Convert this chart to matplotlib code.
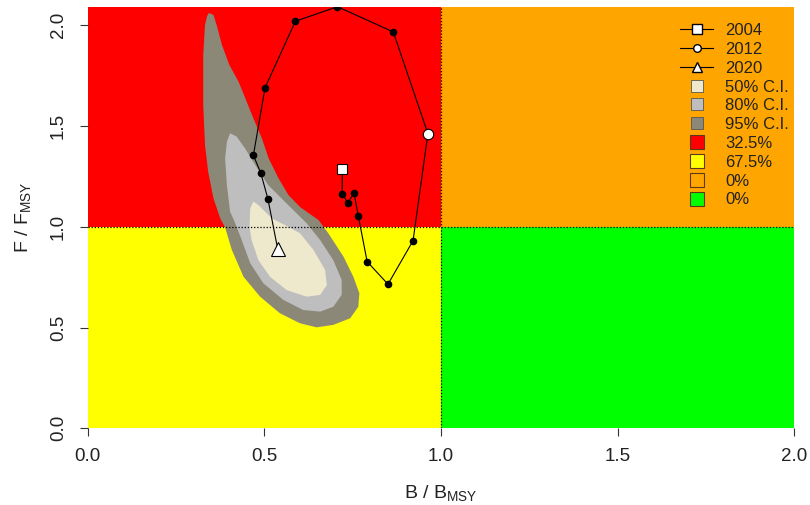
import matplotlib
matplotlib.use("Agg")
import matplotlib.pyplot as plt
from matplotlib.lines import Line2D
import numpy as np

plt.rcParams['font.family'] = ['Liberation Sans', 'DejaVu Sans']
plt.rcParams['mathtext.default'] = 'regular'

# ---- data ----
years = list(range(2004, 2021))
b_traj = [0.721, 0.720, 0.736, 0.754, 0.766, 0.791, 0.850, 0.921, 0.963,
          0.865, 0.707, 0.588, 0.502, 0.469, 0.490, 0.510, 0.538]
f_traj = [1.287, 1.164, 1.120, 1.166, 1.054, 0.827, 0.715, 0.931, 1.462,
          1.967, 2.092, 2.020, 1.690, 1.355, 1.266, 1.139, 0.888]

ci95_b = [0.343, 0.356, 0.365, 0.380, 0.401, 0.427, 0.446, 0.469, 0.493, 0.512,
          0.540, 0.568, 0.601, 0.653, 0.681, 0.724, 0.752, 0.769, 0.766, 0.743,
          0.695, 0.648, 0.601, 0.544, 0.488, 0.441, 0.408, 0.389, 0.375, 0.356,
          0.341, 0.332, 0.327, 0.327, 0.332, 0.338]
ci95_f = [2.061, 2.051, 2.001, 1.902, 1.803, 1.720, 1.638, 1.538, 1.439, 1.340,
          1.241, 1.158, 1.098, 1.034, 0.968, 0.852, 0.752, 0.670, 0.603, 0.546,
          0.513, 0.501, 0.521, 0.571, 0.653, 0.752, 0.885, 0.996, 1.042, 1.141,
          1.273, 1.406, 1.604, 1.853, 2.001, 2.046]

ci80_b = [0.403, 0.422, 0.445, 0.474, 0.511, 0.553, 0.620, 0.658, 0.695, 0.719,
          0.719, 0.695, 0.658, 0.610, 0.554, 0.497, 0.460, 0.436, 0.416, 0.403,
          0.394, 0.389, 0.394]
ci80_f = [1.464, 1.447, 1.390, 1.307, 1.207, 1.133, 1.017, 0.934, 0.835, 0.736,
          0.662, 0.603, 0.579, 0.587, 0.637, 0.720, 0.819, 0.934, 1.024, 1.075,
          1.207, 1.340, 1.422]

ci50_b = [0.469, 0.483, 0.521, 0.563, 0.601, 0.639, 0.672, 0.677, 0.658, 0.620,
          0.563, 0.516, 0.483, 0.464, 0.458, 0.460]
ci50_f = [1.125, 1.108, 1.042, 1.004, 0.968, 0.885, 0.786, 0.711, 0.662, 0.653,
          0.686, 0.752, 0.835, 0.934, 0.999, 1.092]

quad_labels = ['32.5%', '67.5%', '0%', '0%']
ci_labels = ['50% C.I.', '80% C.I.', '95% C.I.']
b_ref, f_ref = 1.0, 1.0
x_max = 2.0
x_ticks = [0.0, 0.5, 1.0, 1.5, 2.0]
y_ticks = [0.0, 0.5, 1.0, 1.5, 2.0]

# ---- style ----
col_red, col_yel, col_org, col_grn = '#FF0000', '#FFFF00', '#FFA500', '#00FF00'
col50, col80, col95 = '#EEE8CD', '#BEBEBE', '#8B8878'

fig = plt.figure(figsize=(8.1, 5.05), dpi=100)
ax = fig.add_axes([0.1083, 0.1519, 0.9805 - 0.1083, 0.9867 - 0.1519])
y_max = max(f_traj)
ax.set_xlim(0, x_max)
ax.set_ylim(0, y_max)

# quadrants
ax.fill_between([0, b_ref], f_ref, y_max, color=col_red, lw=0, zorder=1)
ax.fill_between([0, b_ref], 0, f_ref, color=col_yel, lw=0, zorder=1)
ax.fill_between([b_ref, x_max], f_ref, y_max, color=col_org, lw=0, zorder=1)
ax.fill_between([b_ref, x_max], 0, f_ref, color=col_grn, lw=0, zorder=1)

# CI regions
ax.fill(ci95_b, ci95_f, color=col95, lw=0, zorder=2)
ax.fill(ci80_b, ci80_f, color=col80, lw=0, zorder=3)
ax.fill(ci50_b, ci50_f, color=col50, lw=0, zorder=4)

# reference lines
ax.axhline(f_ref, color='black', lw=0.9, ls=(0, (1, 1.5)), zorder=5)
ax.axvline(b_ref, color='black', lw=0.9, ls=(0, (1, 1.5)), zorder=5)

# trajectory
ax.plot(b_traj, f_traj, color='black', lw=0.8, zorder=6)
ax.plot(b_traj[1:-1], f_traj[1:-1], 'o', color='black', ms=4.5, zorder=7)
i12 = years.index(2012)
ax.plot(b_traj[0], f_traj[0], 's', mfc='white', mec='black', mew=0.8, ms=7.5, zorder=8)
ax.plot(b_traj[i12], f_traj[i12], 'o', mfc='white', mec='black', mew=0.8, ms=7.5, zorder=8)
ax.plot(b_traj[-1], f_traj[-1], '^', mfc='white', mec='black', mew=0.8, ms=10, zorder=8)

for s in ax.spines.values():
    s.set_visible(False)
ax.set_xticks(x_ticks)
ax.set_yticks(y_ticks)
ax.set_xticklabels([f'{v:.1f}' for v in x_ticks])
ax.set_yticklabels([f'{v:.1f}' for v in y_ticks], rotation=90, va='center')
ax.tick_params(axis='both', direction='out', length=6, width=0.8, color='#333333',
               labelsize=13.5, labelcolor='#222222')
ax.tick_params(axis='x', pad=8)
ax.tick_params(axis='y', pad=9)

ax.set_xlabel(r'B / B$_{MSY}$', fontsize=14, color='#222222', labelpad=13)
ax.set_ylabel(r'F / F$_{MSY}$', fontsize=14, color='#222222', labelpad=12)

# legend
handles = [
    Line2D([], [], color='black', lw=0.8, marker='s', mfc='white', mec='black', ms=6.5),
    Line2D([], [], color='black', lw=0.8, marker='o', mfc='white', mec='black', ms=5.5),
    Line2D([], [], color='black', lw=0.8, marker='^', mfc='white', mec='black', ms=7.5),
]
labels = [str(years[0]), str(years[i12]), str(years[-1])]
for c, l in zip([col50, col80, col95], ci_labels):
    handles.append(Line2D([], [], ls='none', marker='s', mfc=c, mec='#555555', mew=0.6, ms=8))
    labels.append(l)
for c, l in zip([col_red, col_yel, col_org, col_grn], quad_labels):
    handles.append(Line2D([], [], ls='none', marker='s', mfc=c, mec='#5a3a1a', mew=0.8, ms=9.5))
    labels.append(l)
leg = fig.legend(handles, labels, loc='upper left', bbox_to_anchor=(680 / 810, 1 - 23 / 505),
                 frameon=False, fontsize=12, borderpad=0, borderaxespad=0,
                 handlelength=2.0, handletextpad=0.7, labelspacing=0.23)
for t in leg.get_texts():
    t.set_color('#222222')

fig.savefig('out.png', dpi=100)
